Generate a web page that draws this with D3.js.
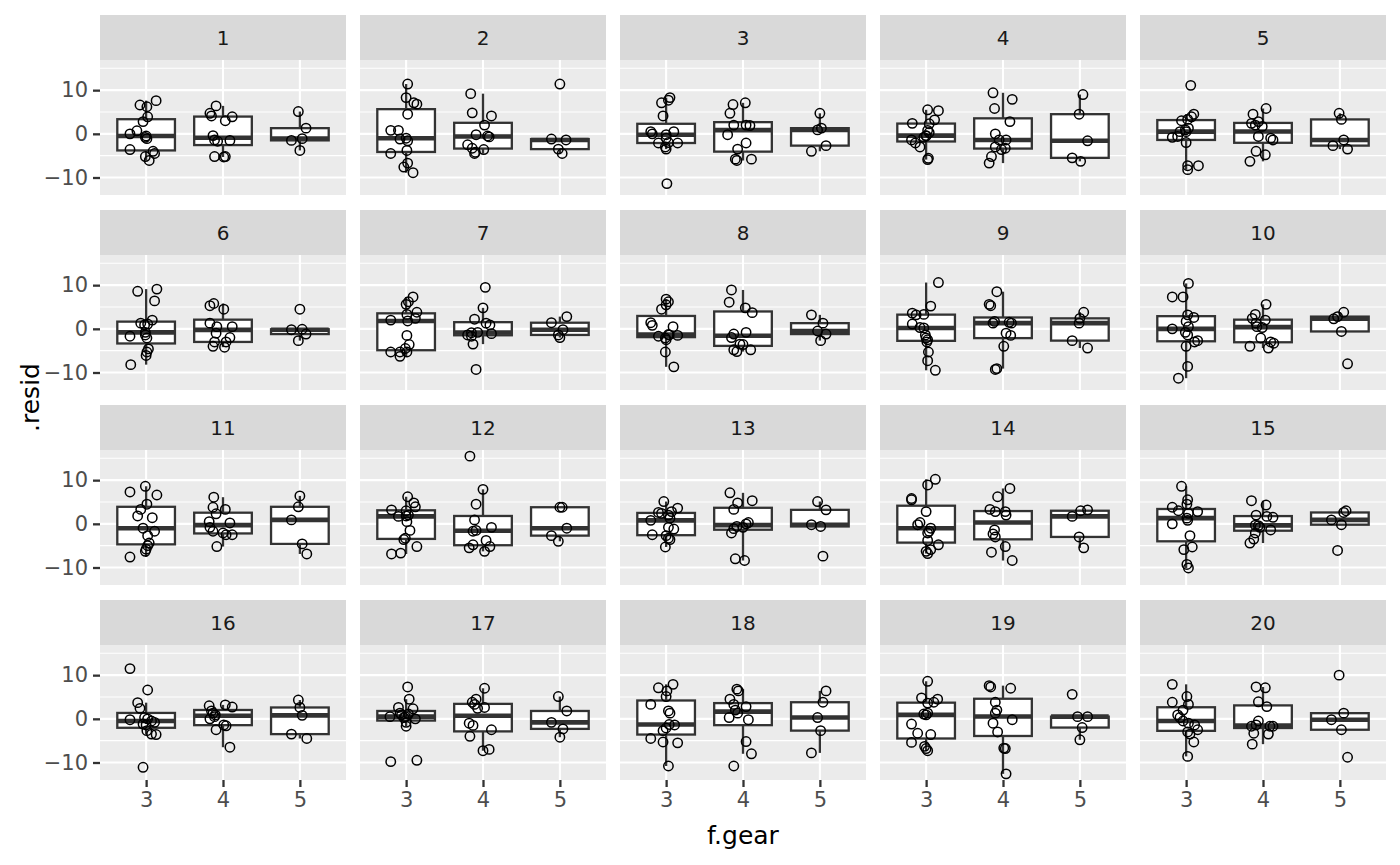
<!DOCTYPE html>
<html>
<head>
<meta charset="utf-8">
<script src="https://cdn.jsdelivr.net/npm/d3@7"></script>
<style>
body { margin: 0; background: #fff; }
#chart text { font-family: "DejaVu Sans", sans-serif; }
</style>
</head>
<body>
<div id="chart"></div>
<script>
// facet labels, x categories, y ticks
let sampleIds = [1, 2, 3, 4, 5, 6, 7, 8, 9, 10, 11, 12, 13, 14, 15, 16, 17, 18, 19, 20]
let gears = ['3', '4', '5']
let yTicks = [-10, 0, 10]
let yMinor = [-15, -5, 5, 15]

// residuals per facet, gear 3 (15 cars)
let resid3 = [
  [7.6, 6.6, 6.2, 3.9, 2.8, 0.7, 0.0, -0.5, -1.1, -3.6, -5.2, -6.1, -4.0, -4.5, -0.8],
  [11.4, 8.3, 7.1, 6.8, 4.5, 0.8, 0.8, -1.2, -1.6, -4.5, -3.8, -6.7, -7.6, -8.9, -1.0],
  [7.1, 7.7, 8.3, 4.1, 0.5, 0.0, 0.5, -1.0, -2.1, -2.0, -2.1, -3.5, -3.0, -11.4, -0.2],
  [5.5, 5.3, 3.2, 2.3, 2.4, 0.8, -0.5, -0.8, -1.4, -3.0, -2.1, -5.6, -5.9, -0.4, 0.3],
  [11.1, 4.5, 3.9, 3.3, 3.0, 1.3, 0.5, 0.5, -0.8, -0.6, -2.0, -7.3, -7.3, -8.2, 0.9],
  [8.6, 9.1, 6.4, 2.0, 1.3, 1.1, 0.9, -1.7, -1.4, -2.1, -4.6, -5.3, -6.1, -8.2, -0.8],
  [7.3, 6.2, 5.6, 3.8, 2.4, 3.3, 2.0, 1.8, -1.5, -3.6, -4.5, -5.3, -5.3, -5.3, -6.3],
  [6.8, 6.2, 5.5, 4.5, 1.4, 0.8, 0.5, -1.7, -1.4, -2.1, -1.5, -2.5, -5.3, -8.7, -1.3],
  [10.6, 5.2, 3.6, 3.2, 3.3, 1.1, 0.3, -1.4, -2.5, -3.0, -5.3, -7.3, -9.5, 0.2, -2.1],
  [10.4, 7.3, 7.3, 3.2, 2.6, 1.7, 0.5, 0.0, -0.8, -1.4, -2.7, -3.0, -4.0, -8.6, -11.3],
  [8.6, 7.3, 6.6, 4.5, 3.3, 1.8, 1.4, -1.0, -1.7, -2.7, -4.4, -5.0, -5.8, -6.3, -7.6],
  [6.2, 4.8, 3.9, 3.2, 3.0, 2.0, 1.7, 0.5, -1.5, -3.3, -3.6, -5.2, -6.9, -6.7, 1.8],
  [5.1, 2.6, 3.6, 2.8, 2.0, 2.4, 0.8, 1.3, -1.2, -0.8, -2.5, -2.7, -3.3, -3.6, -5.3],
  [10.2, 8.9, 5.8, 5.5, 2.8, 0.3, -0.2, -1.0, -1.7, -2.1, -3.8, -4.8, -5.9, -6.3, -6.8],
  [8.6, 5.5, 4.5, 3.8, 3.0, 2.8, 2.4, 1.3, 0.8, 0.0, -2.7, -5.3, -5.9, -9.3, -10.1],
  [11.5, 6.6, 3.7, 2.4, -0.2, 0.3, 0.0, -0.5, -0.8, -1.4, -1.2, -2.7, -3.5, -3.6, -11.1],
  [7.3, 4.5, 2.6, 2.3, 0.5, 0.9, 0.5, 1.1, 0.0, -0.8, -1.7, 0.3, 1.3, -9.8, -9.5],
  [7.1, 7.9, 6.4, 5.1, 3.3, 1.8, 1.3, -1.3, -1.4, -2.7, -2.1, -4.5, -5.3, -5.5, -10.8],
  [8.6, 4.8, 4.5, 3.8, 3.6, 0.9, 1.1, -1.2, -3.3, -5.4, -3.6, -6.8, -7.3, -6.3, 1.3],
  [7.9, 5.1, 3.8, 3.3, 2.0, 0.9, 0.3, -0.5, -1.0, -1.4, -2.5, -3.0, -3.5, -5.3, -8.6]
]
// horizontal jitter (fraction of a category step)
let jitter3 = [
  [0.13, -0.08, 0.01, 0.02, -0.04, -0.12, -0.21, 0, 0.01, -0.21, -0.01, 0.04, 0.09, 0.11, -0.01],
  [0.02, 0, 0.1, 0.14, 0.02, -0.2, -0.1, -0.08, 0.02, -0.2, 0.01, 0.02, -0.03, 0.09, 0],
  [-0.06, 0.03, 0.05, -0.04, -0.2, -0.18, 0.1, 0, -0.1, 0.03, 0.15, 0, -0.01, 0.01, 0],
  [0.02, 0.16, 0.11, 0.04, -0.18, 0.02, 0, -0.03, -0.19, -0.08, -0.14, 0.03, 0.02, 0, 0.04],
  [0.06, 0.1, 0.07, 0.02, -0.06, 0.03, 0, -0.08, -0.18, -0.11, 0, 0.02, 0.16, 0.02, -0.01],
  [-0.11, 0.14, 0.11, 0.08, -0.07, 0.02, -0.02, -0.21, -0.01, 0.01, 0.03, 0.01, 0, -0.2, -0.01],
  [0.09, 0.03, 0, 0.14, 0.12, 0.01, -0.2, 0.02, 0.01, 0.04, -0.01, -0.08, 0.01, -0.2, -0.08],
  [0, 0.03, 0, -0.06, -0.2, -0.18, 0.09, -0.1, 0.04, -0.01, 0.15, 0, -0.01, 0.1, 0.03],
  [0.16, 0.06, -0.18, -0.13, -0.03, -0.18, -0.08, -0.01, 0.02, 0.01, 0.03, 0.02, 0.12, -0.03, 0],
  [0.03, -0.18, -0.04, 0.02, 0.1, 0, 0.03, -0.18, -0.01, 0.02, 0.15, 0.11, 0, 0.02, -0.1],
  [-0.01, -0.21, 0.14, 0.01, -0.07, -0.11, 0.08, -0.04, 0.11, 0.02, 0.04, 0.02, 0, -0.01, -0.21],
  [0.02, 0.1, 0.12, -0.19, 0, 0.03, -0.1, 0.01, 0.05, -0.01, -0.03, 0.14, -0.19, -0.07, 0],
  [-0.03, -0.1, 0.15, 0.07, 0.03, -0.06, -0.2, 0.05, 0.1, 0.03, -0.18, 0, 0.03, 0.05, -0.01],
  [0.12, 0.02, -0.19, -0.19, 0, -0.08, -0.11, 0.06, 0.04, 0.02, 0.02, 0.16, 0.06, 0, 0.02],
  [-0.06, 0.02, 0.01, -0.18, -0.1, 0.15, 0.03, 0.01, 0.02, -0.18, 0.05, 0.08, -0.03, 0.01, 0.03],
  [-0.21, 0.02, -0.11, -0.08, -0.21, -0.02, 0.02, 0.07, 0.11, 0, -0.04, 0.01, 0.07, 0.13, -0.04],
  [0.02, 0.04, -0.1, 0.09, -0.21, -0.06, -0.01, 0.03, 0.12, 0, 0, -0.03, -0.08, -0.2, 0.14],
  [-0.1, 0.09, 0.01, 0, -0.2, 0.03, 0.05, 0.04, 0.11, -0.04, 0, -0.2, -0.04, 0.15, 0.03],
  [0.02, -0.06, 0.15, 0.1, 0.02, 0, -0.03, -0.19, -0.11, -0.19, 0.06, 0, 0.02, -0.02, 0.02],
  [-0.18, 0.01, -0.18, 0.03, -0.04, -0.11, -0.08, -0.04, 0.03, 0.11, 0.15, 0.02, 0.05, 0.1, 0.02]
]

// gear 4 (12 cars)
let resid4 = [
  [6.4, 4.7, 4.1, 3.9, 3.0, -0.4, -1.4, -1.7, -1.5, -5.2, -5.3, -5.2],
  [9.2, 4.8, 4.1, 2.0, -0.2, -0.5, -0.7, -2.5, -3.3, -4.2, -4.5, -3.6],
  [6.7, 7.1, 4.7, 2.0, 2.0, 1.9, -0.2, -2.1, -3.5, -5.8, -6.1, -5.8],
  [9.4, 7.9, 5.8, 2.8, 0.0, -1.4, -1.4, -3.0, -3.3, -3.6, -5.2, -6.7],
  [5.8, 4.5, 2.4, 2.8, 2.0, 1.7, -0.6, -1.0, -1.4, -4.0, -4.8, -6.3],
  [5.3, 5.8, 4.5, 1.3, 0.5, 0.5, -1.0, -2.0, -3.0, -3.0, -4.0, -4.2],
  [9.5, 4.8, 2.2, -0.9, 1.3, 0.9, -0.8, -1.1, -1.4, -1.7, -3.5, -9.3],
  [8.9, 6.1, 4.8, 3.7, -1.2, -2.0, -0.8, -3.5, -4.8, -5.2, -4.8, -3.6],
  [8.5, 5.6, 5.3, 1.3, 1.7, 1.3, 1.5, -1.0, -1.5, -4.0, -9.3, -9.1],
  [5.6, 3.3, 2.4, 2.0, 1.3, 0.3, 0.5, -2.1, -3.0, -3.3, -4.4, -4.0],
  [6.1, 3.8, 3.3, 2.3, 0.5, 0.2, -0.8, -1.7, -2.1, -2.5, -2.5, -5.2],
  [15.5, 7.9, 4.5, 0.9, -0.8, -1.5, -1.7, -3.8, -4.8, -5.5, -5.2, -6.3],
  [7.1, 4.8, 5.3, 3.3, 0.3, 0.0, -0.6, -1.1, -2.1, -0.8, -8.0, -8.4],
  [8.1, 6.2, 3.3, 2.8, 2.8, 2.0, -1.4, -2.3, -3.0, -5.2, -6.5, -8.4],
  [5.3, 4.3, 1.5, 2.0, 1.7, -0.3, -0.4, -0.8, -1.4, -2.1, -3.5, -4.4],
  [3.0, 3.2, 2.7, 1.8, 1.3, 0.9, 0.0, 0.5, -1.4, -1.6, -2.5, -6.5],
  [7.0, 4.5, 3.8, 3.3, 2.4, 2.6, -1.0, -1.5, -4.0, -2.5, -7.3, -7.0],
  [6.8, 6.4, 4.5, 3.3, 2.8, 2.0, 1.3, 0.3, -0.2, -5.2, -8.0, -10.8],
  [7.6, 7.3, 7.0, 3.8, 2.0, 1.3, -1.0, -0.2, -3.0, -6.7, -6.8, -12.6],
  [7.3, 7.1, 3.9, 2.8, -0.5, -1.7, -1.4, -1.7, -1.7, -3.3, -3.5, -5.8]
]
let jitter4 = [
  [-0.09, -0.17, -0.15, 0.12, 0.03, -0.13, -0.11, -0.07, 0.09, -0.11, 0.01, 0.03],
  [-0.16, -0.14, 0.11, 0.02, -0.09, 0.06, 0.08, -0.2, -0.14, -0.1, -0.11, 0.01],
  [-0.13, 0.03, -0.17, -0.12, 0.04, 0.09, -0.2, 0.04, -0.07, -0.1, -0.08, 0.11],
  [-0.13, 0.12, -0.11, 0.09, -0.1, -0.05, 0.04, -0.1, 0.03, -0.02, -0.15, -0.18],
  [0.04, -0.13, -0.15, -0.06, -0.1, -0.01, -0.06, 0.1, 0.13, -0.09, 0.03, -0.17],
  [-0.17, -0.12, 0.01, -0.17, -0.08, 0.12, -0.09, 0.09, -0.11, 0.04, -0.13, 0.02],
  [0.03, 0, -0.11, -0.15, 0.04, 0.09, -0.07, 0.11, -0.2, -0.15, -0.13, -0.09],
  [-0.15, -0.18, 0.03, 0.12, -0.12, -0.15, 0.04, -0.04, -0.12, -0.08, 0.1, 0],
  [-0.08, -0.18, -0.16, -0.13, -0.11, 0.11, 0.08, 0.04, 0.1, 0.01, -0.1, -0.08],
  [0.04, -0.1, -0.14, 0.03, -0.09, -0.01, -0.08, -0.03, 0.1, 0.14, 0.07, -0.17],
  [-0.12, -0.13, 0.03, -0.09, -0.18, 0.09, -0.17, -0.13, 0, 0.04, 0.12, -0.08],
  [-0.17, 0, -0.09, -0.11, 0.11, -0.09, -0.13, 0.04, -0.13, -0.18, 0.09, 0.02],
  [-0.17, -0.07, 0.12, -0.12, 0.07, 0.04, -0.08, -0.12, -0.15, 0, -0.1, 0.02],
  [0.09, -0.07, -0.17, -0.1, 0.03, 0.04, -0.11, -0.13, -0.1, 0.03, -0.15, 0.12],
  [-0.15, 0.04, 0.13, -0.09, 0.05, -0.1, -0.06, -0.04, 0.1, -0.1, -0.12, -0.17],
  [-0.18, 0.03, 0.12, -0.15, -0.13, -0.1, -0.17, -0.11, 0.01, 0.04, -0.09, 0.09],
  [0.02, -0.09, -0.14, -0.11, -0.07, 0.02, -0.18, -0.13, -0.17, 0.11, 0, 0.08],
  [-0.08, -0.06, -0.17, -0.12, 0.04, -0.1, -0.07, -0.18, 0.07, 0.04, 0.11, -0.12],
  [-0.18, -0.16, 0.1, -0.1, -0.08, -0.1, -0.13, 0.12, -0.07, 0.01, 0.03, 0.04],
  [-0.09, 0.03, -0.06, 0.05, -0.06, -0.15, -0.09, 0.09, 0.13, -0.12, 0.07, -0.14]
]

// gear 5 (5 cars)
let resid5 = [
  [5.1, 1.3, -1.1, -1.5, -3.8],
  [11.4, -1.2, -1.4, -3.5, -4.5],
  [4.7, 0.9, 1.3, -2.7, -4.0],
  [9.0, 4.5, -1.6, -5.5, -6.3],
  [4.7, 3.3, -1.4, -2.7, -3.5],
  [4.5, -0.2, -0.1, -1.2, -2.7],
  [2.8, 1.4, -0.2, -1.4, -2.0],
  [3.2, 1.3, -0.5, -1.2, -2.7],
  [3.8, 2.4, 1.3, -2.7, -4.4],
  [3.8, 2.8, 2.3, -0.6, -8.0],
  [6.4, 3.9, 0.9, -4.6, -6.9],
  [3.8, 3.8, -1.0, -2.7, -4.0],
  [5.1, 3.2, -0.2, -0.6, -7.4],
  [3.2, 3.0, 1.7, -3.0, -5.5],
  [3.0, 2.6, 0.9, -0.2, -6.1],
  [4.3, 2.6, 0.8, -3.5, -4.5],
  [5.1, 1.8, -0.8, -2.3, -4.2],
  [6.4, 3.8, 0.3, -2.7, -7.8],
  [5.6, 0.5, 0.5, -2.0, -4.8],
  [10.0, 1.3, -0.2, -2.5, -8.8]
]
let jitter5 = [
  [-0.02, 0.08, 0.03, -0.11, 0],
  [0, -0.11, 0.08, -0.02, 0.03],
  [0, -0.03, 0.02, 0.08, -0.11],
  [0.04, -0.01, 0.1, -0.1, 0.01],
  [-0.01, 0.02, 0.05, -0.09, 0.1],
  [0, -0.11, 0.03, 0.08, -0.02],
  [0.09, -0.11, 0.04, -0.02, 0],
  [-0.11, 0.04, -0.03, 0.08, 0.01],
  [0.05, 0, -0.01, -0.1, 0.1],
  [0.05, -0.03, -0.08, 0.02, 0.1],
  [0, -0.02, -0.11, 0.03, 0.09],
  [0, 0.03, 0.09, -0.11, -0.02],
  [-0.03, 0.08, -0.11, 0.01, 0.04],
  [0.1, 0.01, -0.1, -0.01, 0.05],
  [0.08, 0.05, -0.11, 0.02, -0.03],
  [-0.02, 0, 0.03, -0.11, 0.09],
  [-0.02, 0.09, -0.11, 0.04, 0],
  [0.08, 0.04, -0.03, 0.01, -0.11],
  [-0.1, -0.03, 0.1, 0.03, 0],
  [-0.01, 0.05, -0.11, 0.02, 0.1]
]

let residByGear = [resid3, resid4, resid5]
let jitterByGear = [jitter3, jitter4, jitter5]

// layout
let width = 1400
let height = 865
let marginLeft = 100
let marginTop = 15
let panelW = 246
let panelH = 135
let stripH = 45
let gapX = 14
let gapY = 15
let ncol = 5

let svg = d3.select('#chart')
  .append('svg')
  .attr('width', width)
  .attr('height', height)

// scales: y shared across facets, 5% expansion like ggplot
let allValues = d3.merge(residByGear.map(function (g) { return d3.merge(g) }))
let ext = d3.extent(allValues)
let pad = (ext[1] - ext[0]) * 0.05
let y = d3.scaleLinear()
  .domain([ext[0] - pad, ext[1] + pad])
  .range([panelH, 0])
let x = d3.scalePoint()
  .domain(gears)
  .range([0, panelW])
  .padding(0.6)
let step = x.step()

function boxStats (values) {
  let s = values.slice().sort(d3.ascending)
  let q1 = d3.quantileSorted(s, 0.25)
  let med = d3.quantileSorted(s, 0.5)
  let q3 = d3.quantileSorted(s, 0.75)
  let iqr = q3 - q1
  let lo = d3.min(s.filter(function (v) { return v >= q1 - 1.5 * iqr }))
  let hi = d3.max(s.filter(function (v) { return v <= q3 + 1.5 * iqr }))
  return { q1: q1, med: med, q3: q3, lo: lo, hi: hi }
}

let panels = svg.selectAll('g.facet')
  .data(sampleIds)
  .enter()
  .append('g')
  .attr('class', 'facet')
  .attr('transform', function (d, i) {
    let c = i % ncol
    let r = Math.floor(i / ncol)
    return 'translate(' + (marginLeft + c * (panelW + gapX)) + ',' + (marginTop + r * (stripH + panelH + gapY)) + ')'
  })

panels.each(function (id, i) {
  let g = d3.select(this)
  let col = i % ncol
  let row = Math.floor(i / ncol)

  // strip
  g.append('rect')
    .attr('width', panelW)
    .attr('height', stripH)
    .attr('fill', '#D9D9D9')
  g.append('text')
    .attr('x', panelW / 2)
    .attr('y', stripH / 2)
    .attr('dy', '0.36em')
    .attr('text-anchor', 'middle')
    .attr('font-size', '20px')
    .attr('fill', '#1A1A1A')
    .text(id)

  let p = g.append('g').attr('transform', 'translate(0,' + stripH + ')')
  p.append('rect')
    .attr('width', panelW)
    .attr('height', panelH)
    .attr('fill', '#EBEBEB')

  // grid
  p.selectAll('line.minor')
    .data(yMinor.filter(function (v) { return v > y.domain()[0] && v < y.domain()[1] }))
    .enter()
    .append('line')
    .attr('x1', 0).attr('x2', panelW)
    .attr('y1', function (d) { return y(d) })
    .attr('y2', function (d) { return y(d) })
    .attr('stroke', '#fff')
    .attr('stroke-width', 1.1)
  p.selectAll('line.ymajor')
    .data(yTicks)
    .enter()
    .append('line')
    .attr('x1', 0).attr('x2', panelW)
    .attr('y1', function (d) { return y(d) })
    .attr('y2', function (d) { return y(d) })
    .attr('stroke', '#fff')
    .attr('stroke-width', 2.1)
  p.selectAll('line.xmajor')
    .data(gears)
    .enter()
    .append('line')
    .attr('x1', function (d) { return x(d) })
    .attr('x2', function (d) { return x(d) })
    .attr('y1', 0).attr('y2', panelH)
    .attr('stroke', '#fff')
    .attr('stroke-width', 2.1)

  // boxplots
  gears.forEach(function (gear, k) {
    let vals = residByGear[k][i]
    let b = boxStats(vals)
    let cx = x(gear)
    let bw = step * 0.75
    let bg = p.append('g')
    bg.append('line')
      .attr('x1', cx).attr('x2', cx)
      .attr('y1', y(b.q3)).attr('y2', y(b.hi))
      .attr('stroke', '#333333').attr('stroke-width', 2.3)
    bg.append('line')
      .attr('x1', cx).attr('x2', cx)
      .attr('y1', y(b.q1)).attr('y2', y(b.lo))
      .attr('stroke', '#333333').attr('stroke-width', 2.3)
    bg.append('rect')
      .attr('x', cx - bw / 2)
      .attr('y', y(b.q3))
      .attr('width', bw)
      .attr('height', y(b.q1) - y(b.q3))
      .attr('fill', '#fff')
      .attr('stroke', '#333333')
      .attr('stroke-width', 2.3)
    bg.append('line')
      .attr('x1', cx - bw / 2).attr('x2', cx + bw / 2)
      .attr('y1', y(b.med)).attr('y2', y(b.med))
      .attr('stroke', '#333333').attr('stroke-width', 4.6)
  })

  // jittered points
  gears.forEach(function (gear, k) {
    let vals = residByGear[k][i]
    let jit = jitterByGear[k][i]
    p.selectAll(null)
      .data(vals)
      .enter()
      .append('circle')
      .attr('cx', function (d, j) { return x(gear) + jit[j] * step })
      .attr('cy', function (d) { return y(d) })
      .attr('r', 4.7)
      .attr('fill', 'none')
      .attr('stroke', '#000')
      .attr('stroke-width', 1.5)
  })

  // axes only on outer panels
  if (col === 0) {
    let ay = p.append('g')
      .call(d3.axisLeft(y).tickValues(yTicks).tickSize(7).tickPadding(5))
    ay.select('.domain').remove()
    ay.selectAll('line').attr('stroke', '#333333').attr('stroke-width', 2.3)
    ay.selectAll('text').attr('fill', '#4D4D4D').attr('font-size', '21px')
  }
  if (row === 3) {
    let ax = p.append('g')
      .attr('transform', 'translate(0,' + panelH + ')')
      .call(d3.axisBottom(x).tickSize(7).tickPadding(5))
    ax.select('.domain').remove()
    ax.selectAll('line').attr('stroke', '#333333').attr('stroke-width', 2.3)
    ax.selectAll('text').attr('fill', '#4D4D4D').attr('font-size', '21px')
  }
})

// axis titles
svg.append('text')
  .attr('x', marginLeft + (ncol * panelW + (ncol - 1) * gapX) / 2)
  .attr('y', 844)
  .attr('text-anchor', 'middle')
  .attr('font-size', '25px')
  .attr('fill', '#000')
  .text('f.gear')
svg.append('text')
  .attr('transform', 'translate(39,' + (marginTop + (4 * (stripH + panelH) + 3 * gapY) / 2) + ') rotate(-90)')
  .attr('text-anchor', 'middle')
  .attr('font-size', '25px')
  .attr('fill', '#000')
  .text('.resid')
</script>
</body>
</html>
